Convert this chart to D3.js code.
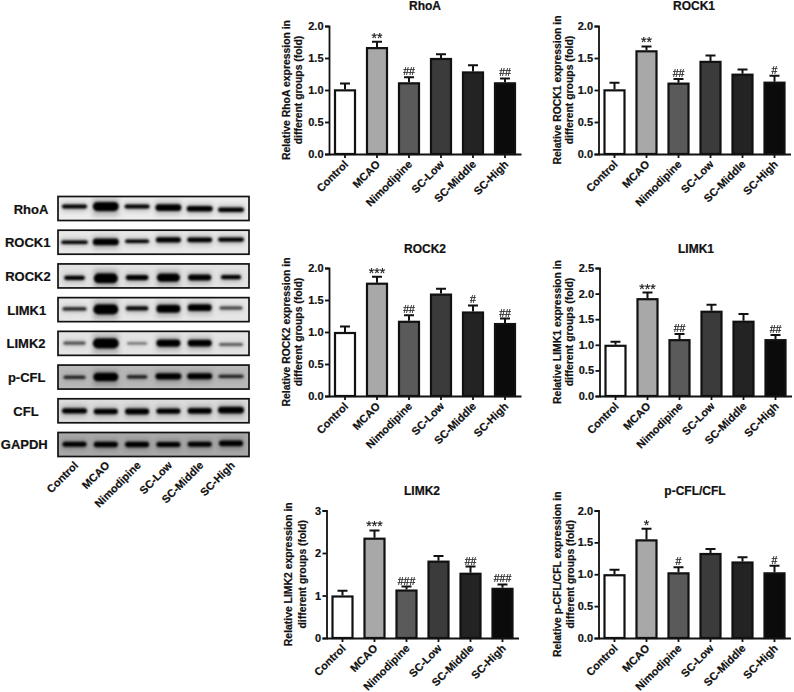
<!DOCTYPE html>
<html>
<head>
<meta charset="utf-8">
<script src="https://cdn.jsdelivr.net/npm/d3@7"></script>
<style>
    body { margin: 0; background: #fff; }
    svg { display: block; }
    text { font-family: "Liberation Sans", Arial, sans-serif; font-weight: bold; fill: #111; stroke: #111; stroke-width: 0.2; }
    .axis path, .axis line { stroke: #111; stroke-width: 1.8; }
    .sig { opacity: 0.99; }
</style>
</head>
<body>
<div id="chart"></div>
<script>
const groups = ["Control", "MCAO", "Nimodipine", "SC-Low", "SC-Middle", "SC-High"];
const barFills = ["#ffffff", "#a8a8a8", "#5a5a5a", "#3b3b3b", "#232323", "#0b0b0b"];

// bar charts, one set of lists per panel
const rhoaValues = [1.01, 1.67, 1.12, 1.50, 1.29, 1.12];
const rhoaErrors = [1.10, 1.755, 1.20, 1.56, 1.385, 1.18];
const rhoaMarks = ["", "**", "##", "", "", "##"];

const rock1Values = [1.01, 1.62, 1.115, 1.455, 1.255, 1.13];
const rock1Errors = [1.115, 1.68, 1.17, 1.54, 1.32, 1.224];
const rock1Marks = ["", "**", "##", "", "", "#"];

const rock2Values = [1.0, 1.77, 1.175, 1.60, 1.32, 1.14];
const rock2Errors = [1.085, 1.864, 1.26, 1.676, 1.415, 1.21];
const rock2Marks = ["", "***", "##", "", "#", "##"];

const limk1Values = [1.0, 1.91, 1.11, 1.665, 1.47, 1.11];
const limk1Errors = [1.06, 2.02, 1.21, 1.78, 1.60, 1.19];
const limk1Marks = ["", "***", "##", "", "", "##"];

const limk2Values = [1.0, 2.36, 1.14, 1.82, 1.535, 1.18];
const limk2Errors = [1.11, 2.53, 1.21, 1.93, 1.68, 1.26];
const limk2Marks = ["", "***", "###", "", "##", "###"];

const pcflValues = [1.0, 1.547, 1.03, 1.333, 1.20, 1.03];
const pcflErrors = [1.07, 1.714, 1.11, 1.396, 1.266, 1.135];
const pcflMarks = ["", "*", "#", "", "", "#"];

// western blot strips: per strip and lane, all in percent
const blotLabels = ["RhoA", "ROCK1", "ROCK2", "LIMK1", "LIMK2", "p-CFL", "CFL", "GAPDH"];
const blotBackgrounds = ["#ececec", "#e8e8e8", "#e2e2e2", "#e6e6e6", "#e4e4e4", "#b8b8b8", "#dcdcdc", "#a8a8a8"];
const blotPosition = [
    [42, 42, 42, 46, 51, 55],
    [50, 49, 46, 40, 40, 39],
    [58, 60, 57, 57, 57, 55],
    [47, 49, 45, 46, 42, 43],
    [49, 50, 50, 49, 49, 55],
    [51, 50, 49, 47, 47, 47],
    [50, 53, 53, 51, 50, 47],
    [49, 50, 50, 50, 49, 45]
];
const blotThickness = [
    [17, 38, 17, 28, 23, 19],
    [15, 28, 15, 22, 20, 18],
    [17, 42, 21, 35, 25, 17],
    [14, 42, 18, 33, 28, 13],
    [14, 42, 10, 31, 28, 13],
    [13, 35, 14, 26, 25, 13],
    [22, 22, 24, 22, 24, 28],
    [21, 22, 22, 21, 21, 24]
];
const blotSpan = [
    [80, 83, 80, 83, 83, 83],
    [85, 83, 77, 80, 80, 83],
    [66, 77, 72, 74, 74, 64],
    [77, 80, 72, 77, 77, 74],
    [72, 83, 64, 77, 77, 77],
    [70, 80, 66, 83, 80, 80],
    [80, 77, 77, 77, 77, 83],
    [77, 77, 77, 77, 77, 77]
];
const blotInk = [
    [100, 100, 100, 100, 100, 100],
    [100, 100, 100, 100, 100, 100],
    [100, 100, 100, 100, 100, 100],
    [85, 100, 95, 100, 100, 70],
    [60, 100, 50, 100, 100, 55],
    [85, 100, 85, 100, 100, 80],
    [100, 100, 100, 100, 100, 100],
    [100, 100, 100, 100, 100, 100]
];

const svg = d3.select("#chart").append("svg")
    .attr("width", 794)
    .attr("height", 692);

const defs = svg.append("defs");
defs.append("filter").attr("id", "band-blur")
    .attr("x", "-30%").attr("y", "-100%").attr("width", "160%").attr("height", "300%")
    .append("feGaussianBlur").attr("stdDeviation", 0.9);
defs.append("filter").attr("id", "smear-blur")
    .attr("x", "-30%").attr("y", "-100%").attr("width", "160%").attr("height", "300%")
    .append("feGaussianBlur").attr("stdDeviation", 2.5);

const barPanels = [
    {title: "RhoA", protein: "RhoA", values: rhoaValues, errors: rhoaErrors, marks: rhoaMarks, max: 2, ticks: [0, 0.5, 1, 1.5, 2], left: 329, top: 26, bottom: 154, titleX: 425, titleY: 10, label: [-39, -27]},
    {title: "ROCK1", protein: "ROCK1", values: rock1Values, errors: rock1Errors, marks: rock1Marks, max: 2, ticks: [0, 0.5, 1, 1.5, 2], left: 598.5, top: 26, bottom: 154, titleX: 694, titleY: 10, label: [-38, -26]},
    {title: "ROCK2", protein: "ROCK2", values: rock2Values, errors: rock2Errors, marks: rock2Marks, max: 2, ticks: [0, 0.5, 1, 1.5, 2], left: 329, top: 268, bottom: 396, titleX: 425, titleY: 253, label: [-39, -27]},
    {title: "LIMK1", protein: "LIMK1", values: limk1Values, errors: limk1Errors, marks: limk1Marks, max: 2.5, ticks: [0, 0.5, 1, 1.5, 2, 2.5], left: 599.5, top: 268, bottom: 396, titleX: 696, titleY: 253, label: [-39, -27]},
    {title: "LIMK2", protein: "LIMK2", values: limk2Values, errors: limk2Errors, marks: limk2Marks, max: 3, ticks: [0, 1, 2, 3], left: 326.5, top: 510.5, bottom: 638, titleX: 422, titleY: 495, label: [-35, -21]},
    {title: "p-CFL/CFL", protein: "p-CFL/CFL", values: pcflValues, errors: pcflErrors, marks: pcflMarks, max: 2, ticks: [0, 0.5, 1, 1.5, 2], left: 598.5, top: 510.5, bottom: 638, titleX: 695, titleY: 495, label: [-38, -25]}
];

const drawBarPanel = p => {
    const g = svg.append("g").attr("transform", "translate(" + p.left + ",0)");

    const x = d3.scaleBand().domain(groups).range([0, 192])
        .paddingInner(0.375).paddingOuter(0.1875);
    const y = d3.scaleLinear().domain([0, p.max]).range([p.bottom, p.top]);
    const center = name => x(name) + x.bandwidth() / 2;

    g.selectAll("rect.bar")
        .data(groups)
        .enter()
        .append("rect")
            .attr("class", "bar")
            .attr("x", d => x(d))
            .attr("y", (d, i) => y(p.values[i]) + 1)
            .attr("width", x.bandwidth())
            .attr("height", (d, i) => y(0) - y(p.values[i]) - 1)
            .attr("fill", (d, i) => barFills[i])
            .attr("stroke", "#111")
            .attr("stroke-width", 2.2);

    // error bars only go up
    g.selectAll("path.err")
        .data(groups)
        .enter()
        .append("path")
            .attr("class", "err")
            .attr("fill", "none")
            .attr("stroke", "#111")
            .attr("stroke-width", 2)
            .attr("d", (d, i) => {
                const cx = center(d);
                return "M" + cx + "," + y(p.values[i]) + "V" + y(p.errors[i]) + "M" + (cx - 5) + "," + y(p.errors[i]) + "H" + (cx + 5);
            });

    g.selectAll("text.sig")
        .data(groups)
        .enter()
        .append("text")
            .attr("class", "sig")
            .attr("text-anchor", "middle")
            .attr("x", d => center(d))
            .attr("y", (d, i) => y(p.errors[i]) + (p.marks[i].includes("*") ? 1 : -2))
            .style("font-size", (d, i) => p.marks[i].includes("*") ? "14px" : "10.5px")
            .style("font-weight", "normal")
            .text((d, i) => p.marks[i]);

    const yAxis = g.append("g")
        .attr("class", "axis")
        .call(d3.axisLeft(y)
            .tickValues(p.ticks)
            .tickSize(4)
            .tickPadding(1.5)
            .tickFormat(d => p.max === 3 ? d3.format("d")(d) : d3.format(".1f")(d)));
    yAxis.selectAll("text").style("font-size", "11px");

    const xAxis = g.append("g")
        .attr("class", "axis")
        .attr("transform", "translate(0," + p.bottom + ")")
        .call(d3.axisBottom(x).tickSize(4).tickSizeOuter(0));
    xAxis.selectAll("text")
        .style("font-size", "11px")
        .style("text-anchor", "end")
        .attr("transform", "rotate(-45)")
        .attr("x", -5)
        .attr("y", 7)
        .attr("dy", "0.32em");

    svg.append("text")
        .attr("text-anchor", "middle")
        .attr("x", p.titleX)
        .attr("y", p.titleY)
        .style("font-size", "12px")
        .text(p.title);

    const midY = (p.top + p.bottom) / 2;
    ["Relative " + p.protein + " expression in", "different groups (fold)"].forEach((line, i) => {
        g.append("text")
            .attr("text-anchor", "middle")
            .attr("transform", "translate(" + p.label[i] + "," + midY + ") rotate(-90)")
            .style("font-size", "10.4px")
            .text(line);
    });
};

barPanels.forEach(drawBarPanel);

// blot strips on the left
const stripY = d3.scaleBand().domain(blotLabels).range([196.5, 456.5]).paddingInner(0.288).paddingOuter(0);
const laneX = d3.scalePoint().domain(groups).range([74.5, 231]);
const stripH = stripY.bandwidth();
const inStrip = d3.scaleLinear().domain([0, 100]).range([0, stripH]);
const inLane = d3.scaleLinear().domain([0, 100]).range([0, laneX.step()]);
const blotLeft = 58;
const blotWidth = 191;
const blotLabelCenter = [31, 27.7, 28, 26.7, 26, 26.7, 26, 24.3];

blotLabels.forEach((label, r) => {
    const clipId = "strip-" + r;
    defs.append("clipPath").attr("id", clipId)
        .append("rect")
        .attr("x", blotLeft).attr("y", stripY(label))
        .attr("width", blotWidth).attr("height", stripH);

    const strip = svg.append("g").attr("clip-path", "url(#" + clipId + ")");

    strip.append("rect")
        .attr("x", blotLeft)
        .attr("y", stripY(label))
        .attr("width", blotWidth)
        .attr("height", stripH)
        .attr("fill", blotBackgrounds[r]);

    // soft smear around the band, then the band itself
    strip.selectAll("rect.smear")
        .data(groups)
        .enter()
        .append("rect")
            .attr("class", "smear")
            .attr("x", (d, i) => laneX(d) - inLane(blotSpan[r][i]) / 2)
            .attr("width", (d, i) => inLane(blotSpan[r][i]))
            .attr("y", (d, i) => stripY(label) + inStrip(blotPosition[r][i]) - inStrip(blotThickness[r][i]) * 0.9)
            .attr("height", (d, i) => inStrip(blotThickness[r][i]) * 1.9)
            .attr("fill", "#333")
            .attr("opacity", (d, i) => 0.3 * blotInk[r][i] / 100)
            .attr("filter", "url(#smear-blur)");

    strip.selectAll("rect.band")
        .data(groups)
        .enter()
        .append("rect")
            .attr("class", "band")
            .attr("x", (d, i) => laneX(d) - inLane(blotSpan[r][i]) / 2)
            .attr("width", (d, i) => inLane(blotSpan[r][i]))
            .attr("y", (d, i) => stripY(label) + inStrip(blotPosition[r][i]) - inStrip(blotThickness[r][i]) / 2)
            .attr("height", (d, i) => inStrip(blotThickness[r][i]))
            .attr("rx", (d, i) => inStrip(blotThickness[r][i]) / 2)
            .attr("fill", "#050505")
            .attr("opacity", (d, i) => blotInk[r][i] / 100)
            .attr("filter", "url(#band-blur)");

    svg.append("rect")
        .attr("x", blotLeft)
        .attr("y", stripY(label))
        .attr("width", blotWidth)
        .attr("height", stripH)
        .attr("fill", "none")
        .attr("stroke", "#111")
        .attr("stroke-width", 1.7);

    svg.append("text")
        .attr("text-anchor", "middle")
        .attr("x", blotLabelCenter[r])
        .attr("y", stripY(label) + 17)
        .style("font-size", "13px")
        .text(label);
});

svg.selectAll("text.lane")
    .data(groups)
    .enter()
    .append("text")
        .attr("class", "lane")
        .attr("text-anchor", "end")
        .attr("transform", d => "translate(" + (laneX(d) + 4.5) + ",466) rotate(-45)")
        .style("font-size", "11px")
        .text(d => d);
</script>
</body>
</html>
